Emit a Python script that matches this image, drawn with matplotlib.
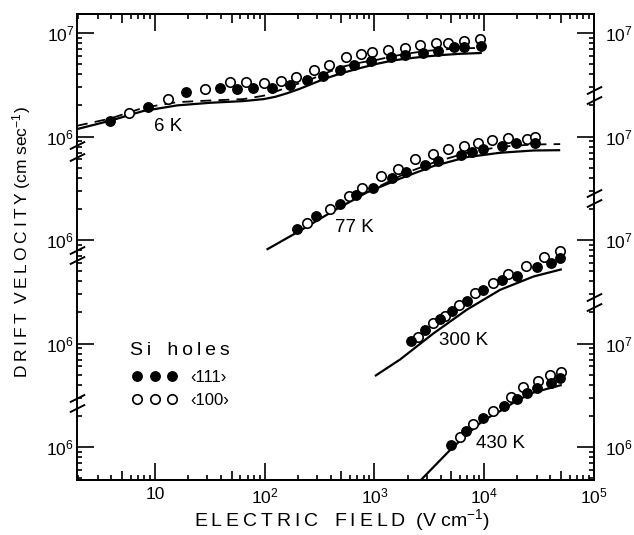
import numpy as np
import matplotlib
matplotlib.use("Agg")
import matplotlib.pyplot as plt
from matplotlib.lines import Line2D
from matplotlib.ticker import FixedLocator, LogLocator, NullFormatter
import matplotlib.transforms as mtransforms

plt.rcParams['font.family'] = ['Liberation Sans', 'DejaVu Sans']
plt.rcParams['mathtext.fontset'] = 'custom'
plt.rcParams['mathtext.rm'] = 'Liberation Sans'
plt.rcParams['mathtext.it'] = 'Liberation Sans:italic'
plt.rcParams['mathtext.bf'] = 'Liberation Sans:bold'

# field in V/cm, drift velocity in 1e6 cm/s
# --- 6 K
e6_111 = [3.9, 8.6, 19, 39, 56, 78, 117, 171, 243, 338, 489, 648, 937, 1420, 1910, 2760, 3780, 5290, 6520, 9300]
v6_111 = [1.42, 1.95, 2.69, 2.96, 2.91, 2.96, 2.94, 3.13, 3.50, 3.88, 4.43, 4.94, 5.31, 5.85, 6.15, 6.47, 6.77, 7.29, 7.39, 7.51]
e6_100 = [5.8, 13.1, 28.8, 48, 68, 98, 142, 194, 280, 383, 554, 755, 951, 1320, 1890, 2620, 3640, 4660, 6520, 9190]
v6_100 = [1.68, 2.33, 2.89, 3.34, 3.34, 3.30, 3.42, 3.77, 4.43, 4.91, 5.81, 6.30, 6.58, 6.87, 7.23, 7.67, 7.96, 8.07, 8.38, 8.77]
e6_th = [1.95, 3.9, 7.9, 16, 32, 64, 98, 125, 160, 210, 260, 360, 525, 760, 1060, 1500, 2130, 3000, 4290, 6000, 8600, 9500]
v6_th = [1.18, 1.42, 1.77, 2.0, 2.12, 2.20, 2.30, 2.42, 2.62, 2.90, 3.18, 3.65, 4.15, 4.62, 5.05, 5.45, 5.72, 5.95, 6.15, 6.30, 6.39, 6.42]
e6_dash = [1.95, 3.9, 7.9, 16, 32, 64, 98, 130, 171, 260, 370, 525, 760, 1060, 1500, 2130, 3000, 4290, 6000, 8600, 10200]
v6_dash = [1.27, 1.49, 1.90, 2.15, 2.23, 2.30, 2.48, 2.75, 3.06, 3.55, 4.15, 4.76, 5.20, 5.52, 6.0, 6.39, 6.72, 6.95, 7.08, 7.18, 7.30]

# --- 77 K
e77_111 = [196, 294, 486, 679, 977, 1440, 1930, 2890, 3820, 6120, 7710, 9840, 14460, 19400, 29100]
v77_111 = [1.28, 1.69, 2.25, 2.71, 3.21, 4.01, 4.54, 5.26, 5.79, 6.56, 7.12, 7.62, 8.19, 8.57, 8.70]
e77_100 = [244, 394, 583, 766, 1140, 1630, 2340, 3440, 4660, 6560, 8750, 11730, 16630, 24450, 29100]
v77_100 = [1.46, 1.99, 2.67, 3.19, 4.15, 4.89, 6.11, 6.71, 7.62, 8.19, 8.57, 9.16, 9.73, 9.57, 10.0]
e77_th = [104, 210, 422, 851, 1710, 3440, 6930, 13950, 28100, 49200]
v77_th = [0.807, 1.23, 1.91, 2.88, 3.92, 5.18, 6.32, 6.97, 7.33, 7.38]
e77_dash = [1125, 1970, 3440, 6930, 13950, 28100, 49200]
v77_dash = [3.33, 4.48, 5.59, 6.97, 7.96, 8.38, 8.45]

# --- 300 K
e300_111 = [2160, 2890, 3960, 5070, 6940, 9840, 14660, 19830, 30130, 40430, 48500]
v300_111 = [1.05, 1.34, 1.73, 2.08, 2.55, 3.30, 4.12, 4.51, 5.53, 5.97, 6.67]
e300_100 = [2510, 3440, 4400, 5940, 8260, 11980, 16630, 24100, 34670, 48500]
v300_100 = [1.16, 1.58, 1.86, 2.37, 3.11, 3.83, 4.71, 5.62, 6.82, 7.89]
e300_th = [1010, 1710, 3440, 6930, 13950, 28100, 50900]
v300_th = [0.485, 0.70, 1.25, 2.12, 3.30, 4.44, 5.22]

# --- 430 K
e430_111 = [4990, 6790, 9700, 15170, 19830, 24450, 30130, 40430, 49200]
v430_111 = [1.04, 1.43, 1.90, 2.51, 2.91, 3.36, 3.75, 4.19, 4.67]
e430_100 = [6030, 7980, 11970, 17450, 22470, 31200, 39900, 50200]
v430_100 = [1.25, 1.66, 2.25, 3.06, 3.81, 4.35, 4.92, 5.33]
e430_th = [2600, 4890, 6930, 9840, 13950, 19830, 28100, 50900]
v430_th = [0.47, 0.936, 1.32, 1.81, 2.22, 2.81, 3.36, 3.98]

temps = ["6 K", "77 K", "300 K", "430 K"]
xticks = [10, 1e2, 1e3, 1e4, 1e5]
xticklabels = ["10", "$10^2$", "$10^3$", "$10^4$", "$10^5$"]
left_labels = ["$10^6$", "$10^6$", "$10^6$", "$10^6$", "$10^7$"]
right_labels = ["$10^6$", "$10^7$", "$10^7$", "$10^7$", "$10^7$"]

# each set is lifted by one decade relative to the one below it
shift = [1e3, 1e2, 1e1, 1.0]
sets = [
    (e6_111, v6_111, e6_100, v6_100, e6_th, v6_th, e6_dash, v6_dash),
    (e77_111, v77_111, e77_100, v77_100, e77_th, v77_th, e77_dash, v77_dash),
    (e300_111, v300_111, e300_100, v300_100, e300_th, v300_th, None, None),
    (e430_111, v430_111, e430_100, v430_100, e430_th, v430_th, None, None),
]
label_pos = [(13.1, 1.26e9), (652, 1.31e8), (6430, 1.08e7), (13960, 1.09e6)]

TS = '\u2009'  # thin space, for the wide letter spacing of the original


def spaced(word):
    return TS.join(word)


fig = plt.figure(figsize=(6.34, 5.35), dpi=100)
ax = fig.add_axes([77 / 634, 1 - 480 / 535, 517 / 634, 466 / 535])
ax.set_xscale('log')
ax.set_yscale('log')

ms = 6.8
for (ef, vf, eo, vo, et, vt, ed, vd), s in zip(sets, shift):
    ax.plot(et, np.array(vt) * 1e6 * s, color='k', lw=1.6, solid_capstyle='butt')
    if ed is not None:
        ax.plot(ed, np.array(vd) * 1e6 * s, color='k', lw=1.3, dashes=(6, 4))
    ax.plot(eo, np.array(vo) * 1e6 * s, ls='none', marker='o', ms=ms,
            mfc='white', mec='k', mew=1.2)
    ax.plot(ef, np.array(vf) * 1e6 * s, ls='none', marker='o', ms=ms,
            mfc='k', mec='k')

for t, (xp, yp) in zip(temps, label_pos):
    ax.text(xp, yp, t, fontsize=13.5, ha='center', va='center')

ax.set_xlim(1.95, 1e5)
ax.set_ylim(10 ** 5.681, 10 ** 10.184)

for sp in ax.spines.values():
    sp.set_linewidth(1.4)

ax.xaxis.set_major_locator(FixedLocator(xticks))
ax.set_xticklabels(xticklabels)
ax.xaxis.set_minor_locator(LogLocator(base=10, subs=(2, 3, 4, 6, 7, 8, 9), numticks=20))
ax.xaxis.set_minor_formatter(NullFormatter())
ax.yaxis.set_major_locator(FixedLocator([1e6, 1e7, 1e8, 1e9, 1e10]))
ax.set_yticklabels(left_labels)
ax.yaxis.set_minor_locator(LogLocator(base=10, subs=np.arange(2, 10), numticks=20))
ax.yaxis.set_minor_formatter(NullFormatter())
ax.tick_params(which='both', direction='in', top=True, bottom=True, left=True, right=False,
               width=1.2, labelsize=12.5)
ax.tick_params(which='major', length=12)
ax.tick_params(which='minor', length=3.5)
ax.tick_params(axis='y', which='major', pad=2)
ax.tick_params(axis='x', which='major', pad=5)

# medium ticks at 5, 50, ...
for side in ('top', 'bottom'):
    sec = ax.secondary_xaxis(side)
    sec.xaxis.set_major_locator(FixedLocator([5, 50, 500, 5000, 50000]))
    sec.xaxis.set_major_formatter(NullFormatter())
    sec.xaxis.set_minor_locator(FixedLocator([]))
    sec.tick_params(direction='in', length=6.5, width=1.2)
    sec.spines[side].set_linewidth(1.4)

secy = ax.secondary_yaxis('right')
secy.yaxis.set_major_locator(FixedLocator([1e6, 1e7, 1e8, 1e9, 1e10]))
secy.set_yticklabels(right_labels)
secy.yaxis.set_minor_locator(LogLocator(base=10, subs=np.arange(2, 10), numticks=20))
secy.yaxis.set_minor_formatter(NullFormatter())
secy.tick_params(which='both', direction='in', width=1.2, labelsize=12.5)
secy.tick_params(which='major', length=12, pad=8)
secy.tick_params(which='minor', length=3.5)
secy.spines['right'].set_linewidth(1.4)

# axis break marks
brk = [(-1, -0.5), (1, 0.5)]
trans = mtransforms.blended_transform_factory(ax.transAxes, ax.transData)
left_breaks = [10 ** 8.918, 10 ** 8.802, 10 ** 7.903, 10 ** 7.807, 10 ** 6.473, 10 ** 6.377]
right_breaks = [10 ** 9.449, 10 ** 9.353, 10 ** 8.454, 10 ** 8.357, 10 ** 7.449, 10 ** 7.353]
ax.plot([0] * len(left_breaks), left_breaks, ls='none', marker=brk, ms=11, mec='k', mew=1.4,
        transform=trans, clip_on=False)
ax.plot([1] * len(right_breaks), right_breaks, ls='none', marker=brk, ms=11, mec='k', mew=1.4,
        transform=trans, clip_on=False)

# legend: title as its own text, symbol rows below
ax.text(0.1025, 0.277, spaced('Si') + '   ' + spaced('holes'), fontsize=14,
        ha='left', va='center', transform=ax.transAxes)
handles = [Line2D([], [], ls='none', marker='o', ms=ms, mfc='k', mec='k'),
           Line2D([], [], ls='none', marker='o', ms=ms, mfc='white', mec='k', mew=1.2)]
ax.legend(handles, ['\u2039111\u203a', '\u2039100\u203a'], numpoints=3,
          loc='upper left', bbox_to_anchor=(0.107, 0.237), frameon=False,
          handlelength=2.7, handletextpad=0.75, borderpad=0, borderaxespad=0,
          fontsize=12, labelspacing=0.5)

xlab = spaced('ELECTRIC') + '   ' + spaced('FIELD') + '  ' + '(V cm$^{-1}$)'
fig.text(342 / 634, 1 - 520 / 535, xlab, fontsize=14, ha='center', va='center')
ylab = spaced('DRIFT') + '  ' + spaced('VELOCITY') + ' ' + '(cm sec$^{-1}$)'
fig.text(22 / 634, 1 - 242 / 535, ylab, fontsize=12.5, ha='center', va='center', rotation=90)

fig.savefig('out.png', dpi=100)
